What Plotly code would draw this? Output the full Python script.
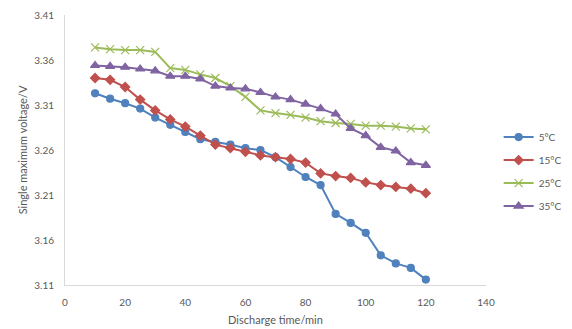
import plotly.graph_objects as go

time_min = [10, 15, 20, 25, 30, 35, 40, 45, 50, 55, 60, 65, 70, 75, 80, 85, 90, 95, 100, 105, 110, 115, 120]
v_5 = [3.323, 3.317, 3.312, 3.306, 3.296, 3.288, 3.280, 3.272, 3.269, 3.266, 3.262, 3.260, 3.252, 3.241, 3.230, 3.221, 3.189, 3.179, 3.168, 3.143, 3.134, 3.129, 3.116]
v_15 = [3.340, 3.338, 3.330, 3.316, 3.304, 3.294, 3.286, 3.276, 3.266, 3.262, 3.258, 3.254, 3.252, 3.250, 3.246, 3.234, 3.231, 3.229, 3.224, 3.221, 3.219, 3.217, 3.212]
v_25 = [3.374, 3.372, 3.371, 3.371, 3.369, 3.351, 3.349, 3.344, 3.340, 3.331, 3.319, 3.304, 3.301, 3.299, 3.296, 3.292, 3.290, 3.289, 3.287, 3.287, 3.286, 3.284, 3.283]
v_35 = [3.354, 3.353, 3.352, 3.350, 3.348, 3.342, 3.342, 3.339, 3.331, 3.329, 3.328, 3.324, 3.319, 3.316, 3.311, 3.306, 3.300, 3.284, 3.276, 3.263, 3.259, 3.246, 3.243]

series = [
    ("5°C", v_5, "#4F81BD", "circle", 7),
    ("15°C", v_15, "#C0504D", "diamond", 7),
    ("25°C", v_25, "#9BBB59", "x-thin-open", 8),
    ("35°C", v_35, "#8064A2", "triangle-up", 8),
]

y_ticks = [3.11, 3.16, 3.21, 3.26, 3.31, 3.36, 3.41]
x_ticks = [0, 20, 40, 60, 80, 100, 120, 140]

fig = go.Figure()
for name, vals, color, sym, size in series:
    fig.add_trace(go.Scatter(
        x=time_min, y=vals, name=name, mode="lines+markers", legendgroup=name,
        line=dict(color=color, width=2),
        marker=dict(symbol=sym, size=size, color=color,
                    line=dict(color=color, width=1.2)),
    ))

font = "Lato, Calibri, 'Noto Sans', sans-serif"
fig.update_layout(
    width=572, height=329,
    margin=dict(l=65, r=86, t=15, b=44, autoexpand=False),
    paper_bgcolor="white", plot_bgcolor="white",
    font=dict(family=font, size=10, color="#595959"),
    showlegend=True,
    legend=dict(x=1.03, y=0.42, xanchor="left", yanchor="middle",
                font=dict(size=10, color="#595959"),
                itemwidth=30, tracegroupgap=4, bgcolor="rgba(0,0,0,0)"),
    xaxis=dict(range=[0, 140], tickvals=x_ticks, showgrid=False, zeroline=False,
               showline=True, linecolor="#D9D9D9", linewidth=1, ticks="",
               ticklabelstandoff=8, automargin=False,
               title=dict(text="Discharge time/min", font=dict(size=11, color="#595959"), standoff=9),
               tickfont=dict(size=10, color="#595959")),
    yaxis=dict(range=[3.11, 3.41], tickvals=y_ticks, ticktext=[f"{v:.2f}" for v in y_ticks],
               showgrid=False, zeroline=False,
               showline=True, linecolor="#D9D9D9", linewidth=1, ticks="",
               ticklabelstandoff=8, automargin=False,
               title=dict(text="Single maximum voltage/V", font=dict(size=11, color="#595959"), standoff=4),
               tickfont=dict(size=10, color="#595959")),
)

fig.write_html("out.html")
